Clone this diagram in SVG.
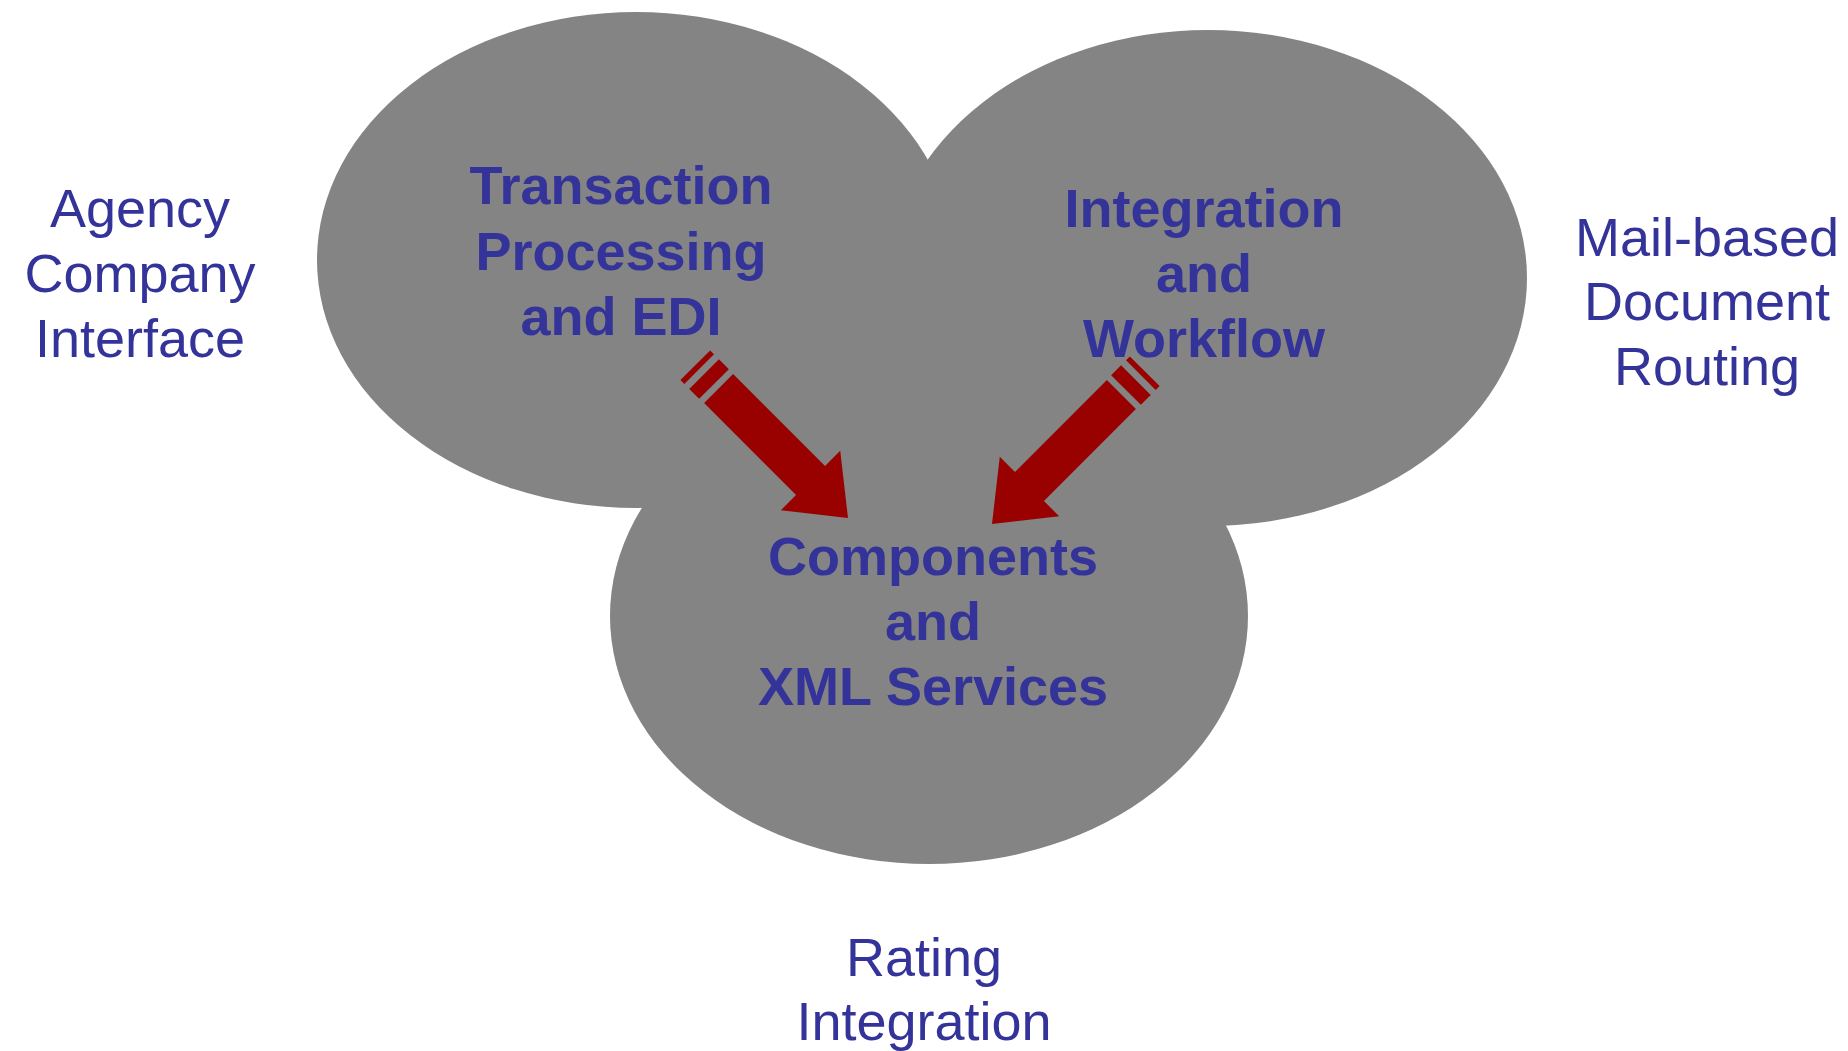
<svg xmlns="http://www.w3.org/2000/svg" width="1848" height="1051" viewBox="0 0 1848 1051">
<style>
.blob{fill:#848484;}
.t{font-family:"Liberation Sans",Arial,sans-serif;font-size:54px;fill:#333399;text-anchor:middle;}
.b{font-weight:bold;}
.arr{fill:#990000;}
</style>
<defs>
<g id="arrow">
<path d="M0,0 L-53,-42 L-53,-20.5 L-183,-20.5 L-183,20.5 L-53,20.5 L-53,42 Z"/>
<rect x="-203.5" y="-21" width="14" height="42"/>
<rect x="-216" y="-21" width="5.5" height="42"/>
</g>
</defs>
<rect width="1848" height="1051" fill="#ffffff"/>
<g id="shapes">
<ellipse class="blob" cx="636" cy="260" rx="319" ry="248"/>
<ellipse class="blob" cx="1208" cy="278" rx="319" ry="248"/>
<ellipse class="blob" cx="929" cy="616" rx="319" ry="248"/>
</g>
<g id="node-transaction">
<text class="t b" x="621" y="204">Transaction</text>
<text class="t b" x="621" y="270">Processing</text>
<text class="t b" x="621" y="335">and EDI</text>
</g>
<g id="node-integration">
<text class="t b" x="1204" y="227">Integration</text>
<text class="t b" x="1204" y="292">and</text>
<text class="t b" x="1204" y="357">Workflow</text>
</g>
<g id="node-components">
<text class="t b" x="933" y="575">Components</text>
<text class="t b" x="933" y="640">and</text>
<text class="t b" x="933" y="705">XML Services</text>
</g>
<g id="connectors" class="arr">
<use href="#arrow" transform="translate(848,518) rotate(45)"/>
<use href="#arrow" transform="translate(992,524) rotate(135)"/>
</g>
<g id="label-agency">
<text class="t" x="140" y="227">Agency</text>
<text class="t" x="140" y="292">Company</text>
<text class="t" x="140" y="357">Interface</text>
</g>
<g id="label-mail">
<text class="t" x="1707" y="256">Mail-based</text>
<text class="t" x="1707" y="320">Document</text>
<text class="t" x="1707" y="385">Routing</text>
</g>
<g id="label-rating">
<text class="t" x="924" y="976">Rating</text>
<text class="t" x="924" y="1040">Integration</text>
</g>
</svg>
